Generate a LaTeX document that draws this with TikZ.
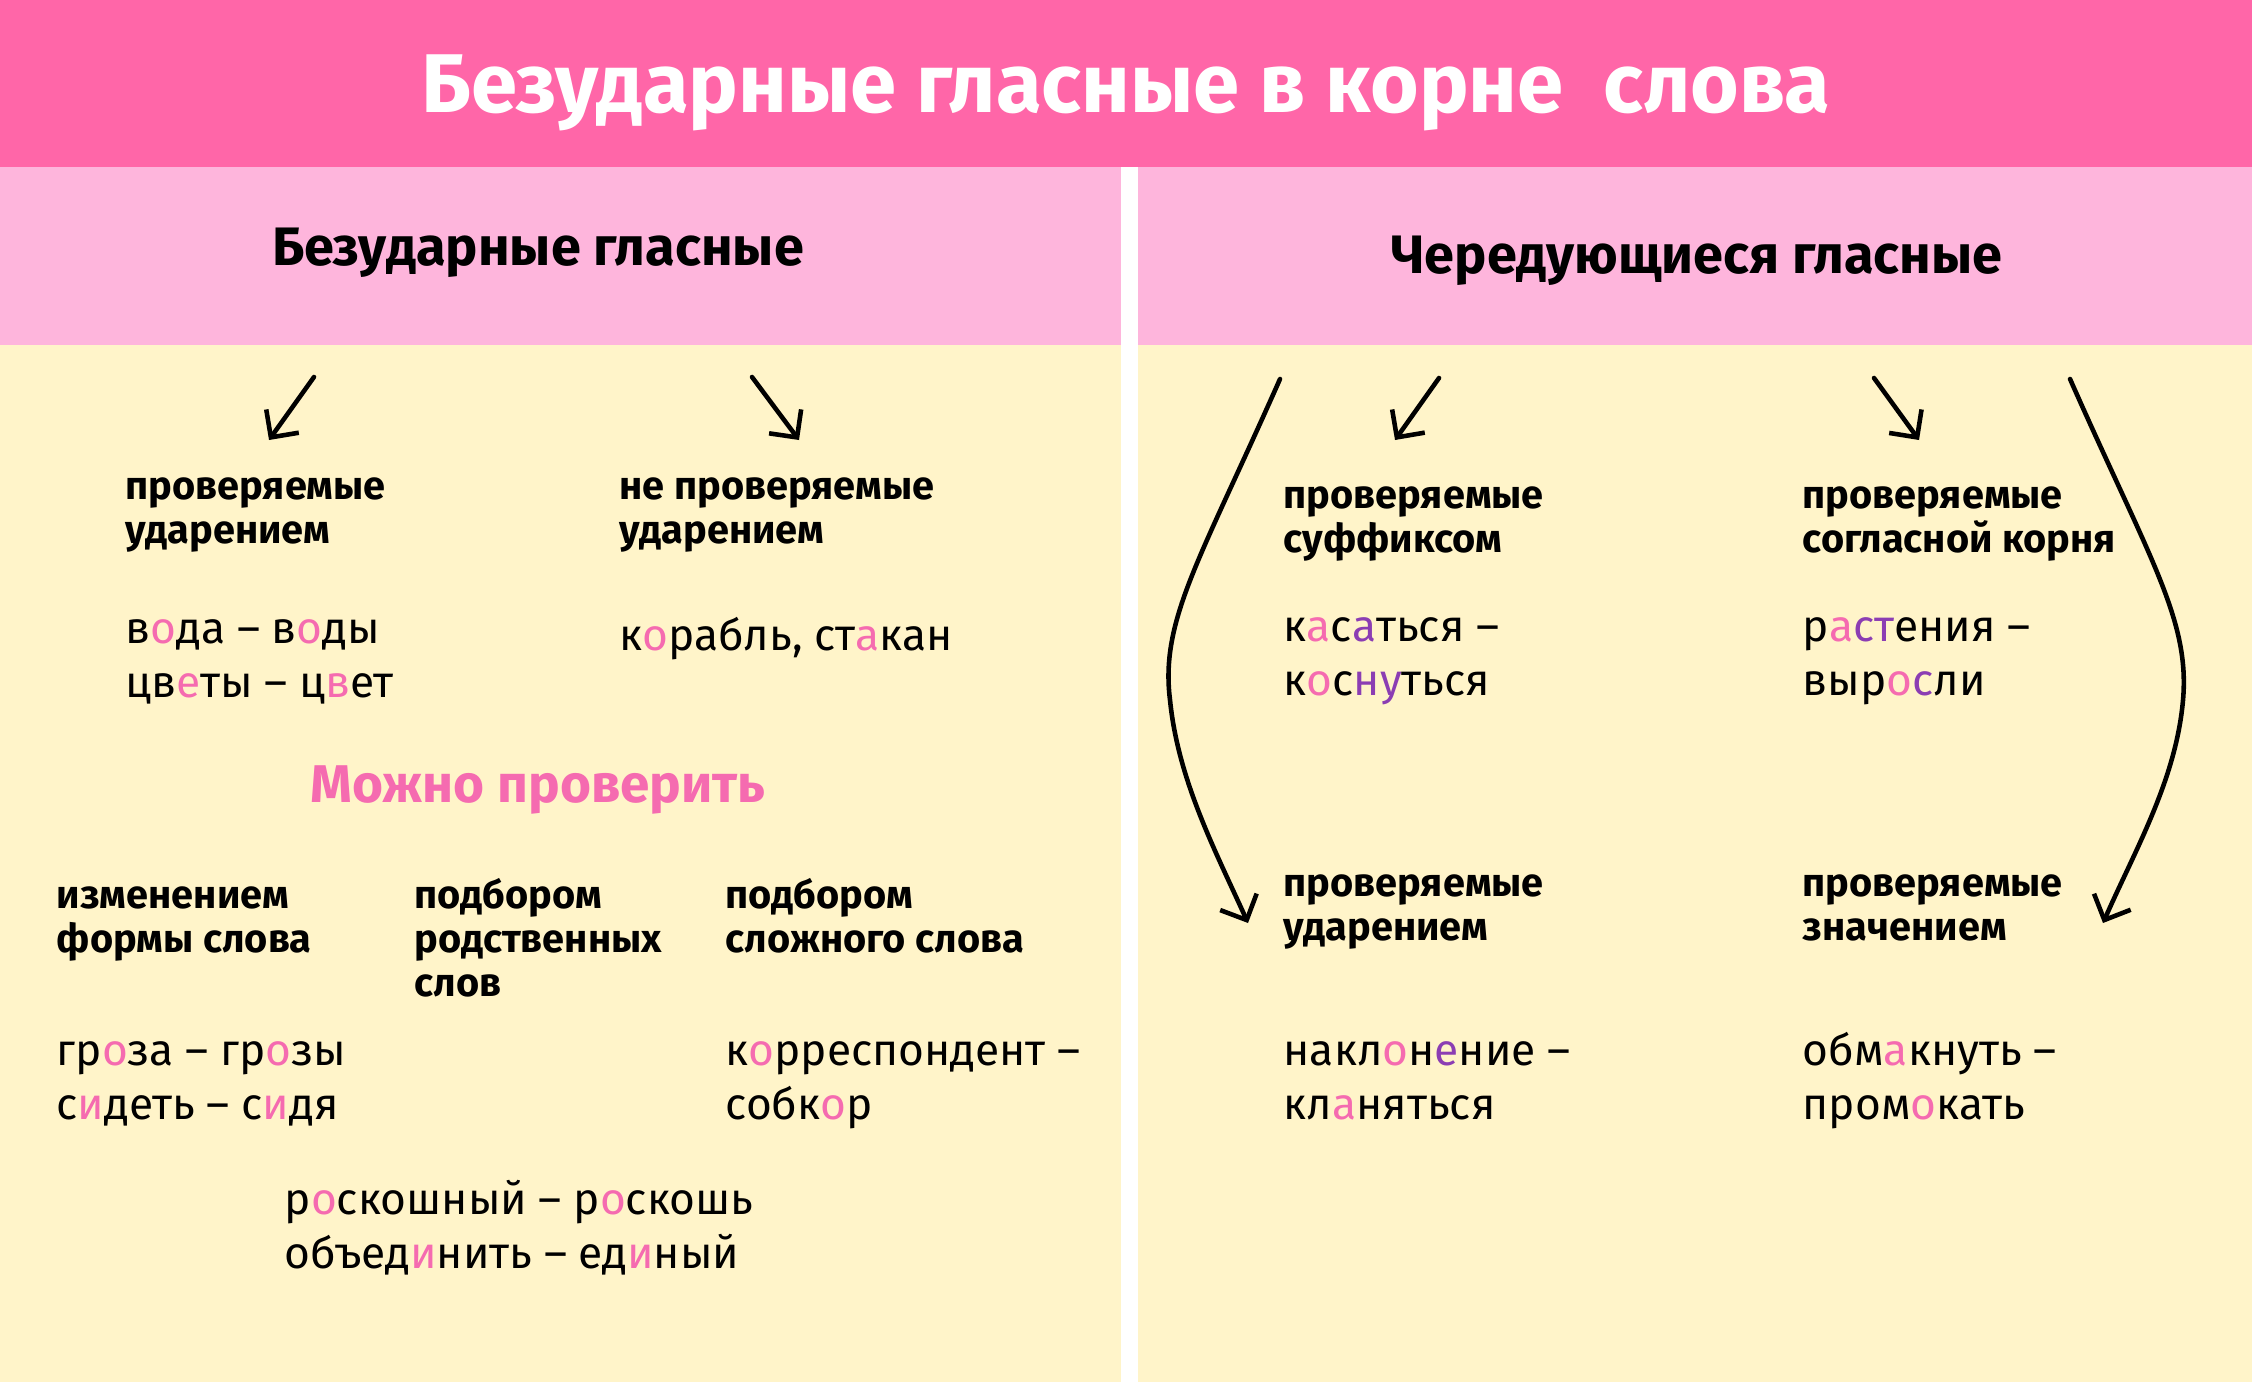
\documentclass[tikz,border=0pt]{standalone}
\usepackage{fontspec}
\setmainfont{Fira Sans}
\usepackage{xcolor}
\usetikzlibrary{arrows.meta}
\definecolor{hotpink}{HTML}{FF66A8}
\definecolor{softpink}{HTML}{FEB5DC}
\definecolor{paleyellow}{HTML}{FFF4C9}
\definecolor{vowelpink}{HTML}{F56BB0}
\definecolor{vowelpurple}{HTML}{8B3DB3}
\newcommand{\pv}[1]{\textcolor{vowelpink}{#1}}
\newcommand{\uv}[1]{\textcolor{vowelpurple}{#1}}

\begin{document}
\begin{tikzpicture}[x=0.01cm, y=-0.01cm,
    heading/.style={font=\bfseries\fontsize{11.3}{12.5}\selectfont, anchor=base west, align=left, inner sep=0pt},
    sample/.style={font=\fontsize{12.6}{15.3}\selectfont, anchor=base west, align=left, inner sep=0pt},
    band/.style={font=\bfseries\fontsize{15.4}{17}\selectfont, anchor=base, inner sep=0pt},
    pointer/.style={line width=1.3pt, line cap=round, -{Straight Barb[length=2mm, width=4mm]}}]
    \useasboundingbox (0,0) rectangle (2252,1382);
    \fill[white] (0,0) rectangle (2252,1382);
    \fill[hotpink] (0,0) rectangle (2252,167);
    \fill[softpink] (0,167) rectangle (1121,345);
    \fill[softpink] (1138,167) rectangle (2252,345);
    \fill[paleyellow] (0,345) rectangle (1121,1382);
    \fill[paleyellow] (1138,345) rectangle (2252,1382);

    \node[font=\bfseries\fontsize{23.7}{26}\selectfont, text=white, anchor=base, inner sep=0pt] (title) at (1126,113) {Безударные гласные в корне~~слова};
    \node[band] (lefthead) at (538,265) {Безударные гласные};
    \node[band] (righthead) at (1697,273) {Чередующиеся гласные};

    \node[heading] (checkstress) at (125,543) {проверяемые\\ударением};
    \node[heading] (nocheck) at (619,543) {не проверяемые\\ударением};
    \node[sample] (voda) at (125,697) {в\pv{о}да – в\pv{о}ды\\цв\pv{е}ты – ц\pv{в}ет};
    \node[sample] (korabl) at (619,650) {к\pv{о}рабль, ст\pv{а}кан};
    \node[font=\bfseries\fontsize{15.1}{17}\selectfont, text=vowelpink, anchor=base, inner sep=0pt] (cancheck) at (538,802) {Можно проверить};
    \node[heading] (byform) at (56,952) {изменением\\формы слова};
    \node[heading] (byrelated) at (414,996) {подбором\\родственных\\слов};
    \node[heading] (bycompound) at (725,952) {подбором\\сложного слова};
    \node[sample] (groza) at (56,1119) {гр\pv{о}за – гр\pv{о}зы\\с\pv{и}деть – с\pv{и}дя};
    \node[sample] (korr) at (725,1119) {к\pv{о}рреспондент –\\собк\pv{о}р};
    \node[sample] (roskosh) at (284,1268) {р\pv{о}скошный – р\pv{о}скошь\\объед\pv{и}нить – ед\pv{и}ный};

    \node[heading] (bysuffix) at (1283,552) {проверяемые\\суффиксом};
    \node[heading] (byconsonant) at (1802,552) {проверяемые\\согласной корня};
    \node[sample] (kasat) at (1283,695) {к\pv{а}с\uv{а}ться –\\к\pv{о}с\uv{ну}ться};
    \node[sample] (rast) at (1802,695) {р\pv{а}\uv{ст}ения –\\выр\pv{о}\uv{с}ли};
    \node[heading] (bystress) at (1283,940) {проверяемые\\ударением};
    \node[heading] (bymeaning) at (1802,940) {проверяемые\\значением};
    \node[sample] (naklon) at (1283,1119) {накл\pv{о}н\uv{е}ние –\\кл\pv{а}няться};
    \node[sample] (obmak) at (1802,1119) {обм\pv{а}кнуть –\\пром\pv{о}кать};

    \coordinate (lefttop) at (314,377);
    \coordinate (lefttip) at (269,440);
    \coordinate (midtop) at (752,377);
    \coordinate (midtip) at (799,440);
    \coordinate (suffixtop) at (1439,378);
    \coordinate (suffixtip) at (1395,440);
    \coordinate (consontop) at (1874,378);
    \coordinate (consontip) at (1919,440);
    \coordinate (stresstop) at (1280,379);
    \coordinate (stresstip) at (1248,923);
    \coordinate (meaningtop) at (2070,379);
    \coordinate (meaningtip) at (2103,923);

    \draw[pointer] (lefttop) -- (lefttip);
    \draw[pointer] (midtop) -- (midtip);
    \draw[pointer] (suffixtop) -- (suffixtip);
    \draw[pointer] (consontop) -- (consontip);
    \draw[pointer] (stresstop) .. controls (1200,560) and (1160,620) .. (1170,700) .. controls (1178,780) and (1215,850) .. (stresstip);
    \draw[pointer] (meaningtop) .. controls (2150,560) and (2190,620) .. (2183,700) .. controls (2176,780) and (2135,850) .. (meaningtip);
\end{tikzpicture}
\end{document}
